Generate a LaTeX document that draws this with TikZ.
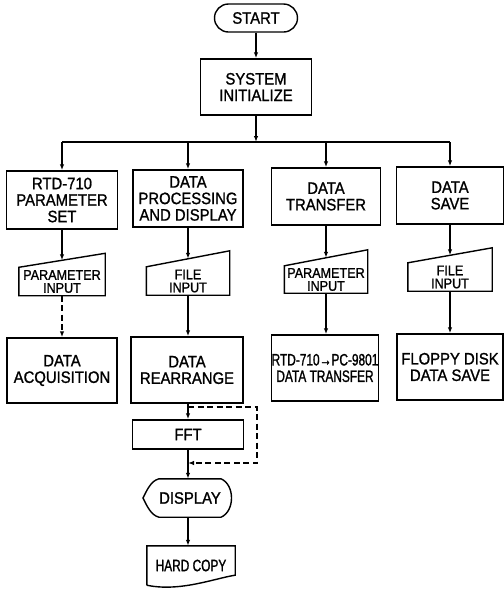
\documentclass[tikz,border=0pt]{standalone}
\usepackage{fontspec}
\setmainfont{Liberation Sans}[FakeStretch=0.9,FakeBold=1.2]
\newfontfamily\condfont{Liberation Sans}[FakeStretch=0.72,FakeBold=1.2]
\usetikzlibrary{arrows.meta,calc}
\newcommand\bigtxt{\fontsize{16.5}{16.5}\selectfont}
\newcommand\smalltxt{\fontsize{14}{13}\selectfont}
\begin{document}
\begin{tikzpicture}[x=1pt,y=-1pt,
  box/.style={draw,line width=1.4pt,align=center,inner sep=0pt,font=\bigtxt},
  term/.style={draw,line width=1.4pt,rounded corners=14pt,inner sep=0pt,
    minimum width=83pt,minimum height=28pt,font=\bigtxt},
  inp/.style={inner sep=0pt,align=center,font=\smalltxt,minimum height=28pt},
  inshape/.style={line width=1.4pt},
  arr/.style={line width=1.2pt,-{Latex[length=6pt,width=4.5pt]}},
  conn/.style={line width=1.2pt},
  dsh/.style={dash pattern=on 6pt off 3.5pt}]
\useasboundingbox (0,0) rectangle (504,590);

% top
\node[term] (start) at (256,18) {START};
\node[box,minimum width=111pt,minimum height=56pt] (sys) at (256,87) {SYSTEM\\INITIALIZE};
\coordinate (split) at (256,142);
\coordinate (b1) at (62,142);
\coordinate (b2) at (188,142);
\coordinate (b3) at (326,142);
\coordinate (b4) at (450,142);

% row 1
\node[box,minimum width=111pt,minimum height=58pt] (rtd) at (62,200) {RTD-710\\PARAMETER\\SET};
\node[box,minimum width=110pt,minimum height=57pt] (proc) at (188,198.5) {DATA\\PROCESSING\\AND DISPLAY};
\node[box,minimum width=109pt,minimum height=57pt] (trans) at (326,196.5) {DATA\\TRANSFER};
\node[box,minimum width=107pt,minimum height=57pt] (save) at (450,195.5) {DATA\\SAVE};

% row 2 (manual input)
\node[inp,minimum width=86pt] (pin1) at (62,281.5) {PARAMETER\\INPUT};
\node[inp,minimum width=83pt] (fin2) at (188,281) {FILE\\INPUT};
\node[inp,minimum width=83pt,minimum height=27pt] (pin3) at (326,279.5) {PARAMETER\\INPUT};
\node[inp,minimum width=84pt] (fin4) at (450,277) {FILE\\INPUT};
\foreach \n/\s in {pin1/14,fin2/16,pin3/16,fin4/15}
  \draw[inshape] (\n.south west) -- (\n.north west) -- ([yshift=\s pt]\n.north east) -- (\n.south east) -- cycle;

% row 3
\node[box,minimum width=110pt,minimum height=65pt] (acq) at (62,370.5) {DATA\\ACQUISITION};
\node[box,minimum width=112pt,minimum height=66pt] (rearr) at (187,370) {DATA\\REARRANGE};
\node[box,minimum width=106pt,minimum height=66pt,font=\bigtxt\condfont] (pc) at (325,368) {RTD-710→PC-9801\\DATA TRANSFER};
\node[box,minimum width=106pt,minimum height=66pt] (floppy) at (450,367) {FLOPPY DISK\\DATA SAVE};

% column 2 continuation
\node[box,minimum width=111pt,minimum height=29pt] (fft) at (188,434.5) {FFT};
\coordinate (lpa) at (188,407);
\coordinate (lpb) at (257,407);
\coordinate (lpc) at (257,463);
\coordinate (lpd) at (188,463);

\node[inner sep=0pt,minimum width=58pt,minimum height=38pt,font=\bigtxt] (disp) at (190,498) {DISPLAY};
\draw[line width=1.4pt] (disp.north west) -- (disp.north east)
  .. controls +(14,6) and +(14,-6) .. (disp.south east)
  -- (disp.south west)
  .. controls +(-8,-2) and +(4,8) .. ([xshift=-16pt]disp.west)
  .. controls +(4,-8) and +(-8,2) .. (disp.north west) -- cycle;

\node[inner sep=0pt,minimum width=88pt,minimum height=39pt,font=\bigtxt\condfont] (hc) at (191,565.5) {HARD COPY};
\draw[line width=1.4pt] (hc.south west) -- (hc.north west) -- (hc.north east) -- ([yshift=10pt]hc.south east)
  .. controls +(-20,3) and +(33,7) .. (hc.south west);

% connectors
\draw[arr] (start) -- (sys);
\draw[arr] (sys) -- (split);
\draw[conn] (b1) -- (b4);
\draw[arr] (b1) -- (rtd);
\draw[arr] (b2) -- (proc);
\draw[arr] (b3) -- (trans);
\draw[arr] (b4) -- (save);

\draw[arr] (rtd.south) -- ([yshift=7pt]pin1.north);
\draw[arr] (proc.south) -- ([yshift=8pt]fin2.north);
\draw[arr] (trans.south) -- ([yshift=8pt]pin3.north);
\draw[arr] (save.south) -- ([yshift=7.5pt]fin4.north);

\draw[arr,dsh] (pin1.south) -- (acq.north);
\draw[arr] (fin2.south) -- (rearr.north -| fin2.south);
\draw[arr] (pin3.south) -- (pc.north -| pin3.south);
\draw[arr] (fin4.south) -- (floppy.north);

\draw[arr] (rearr.south -| fft.north) -- (fft.north);
\draw[arr,dsh] (lpa) -- (lpb) -- (lpc) -- (lpd);
\draw[arr] (fft.south) -- (fft.south |- disp.north);
\draw[arr] (disp.south -| fft.south) -- (hc.north -| fft.south);
\end{tikzpicture}
\end{document}
